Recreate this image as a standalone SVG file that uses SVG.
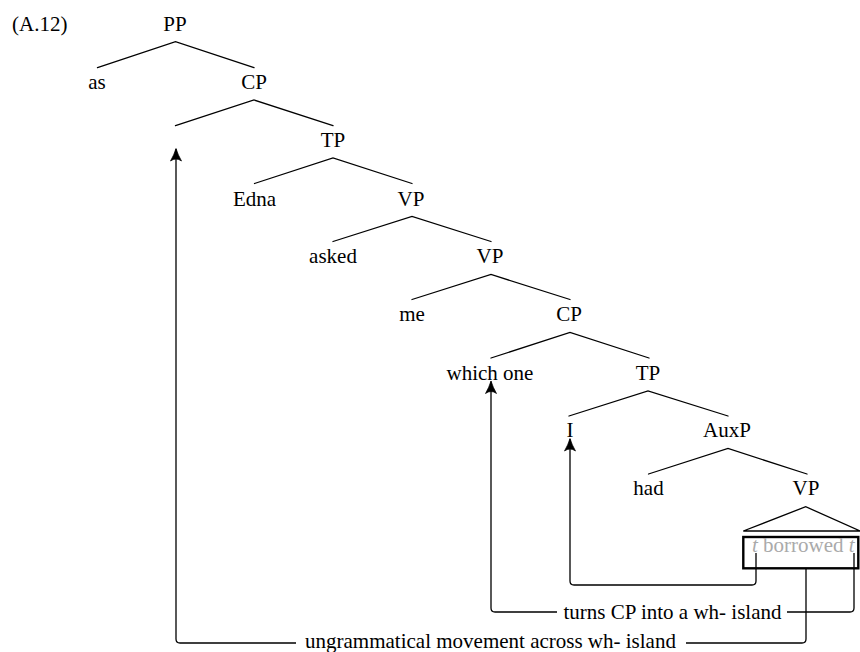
<svg xmlns="http://www.w3.org/2000/svg" width="860" height="652" viewBox="0 0 860 652" font-family="'Liberation Serif', 'Times New Roman', Times, 'DejaVu Serif', serif">
  <style>
    text { font-family: 'Liberation Serif', 'Times New Roman', Times, 'DejaVu Serif', serif; font-size: 21px; }
    .lbl { fill: #000; text-anchor: middle; }
    .note { fill: #000; text-anchor: middle; }
    .trace { fill: #aaaaaa; }
    .edge { stroke: #000; stroke-width: 1.3; fill: none; stroke-linecap: round; }
    .move { stroke: #000; stroke-width: 1.3; fill: none; }
    .gap { fill: #fff; stroke: none; }
  </style>
  <defs>
    <marker id="head" markerUnits="userSpaceOnUse" markerWidth="14" markerHeight="14" viewBox="-13 -7 14 14" refX="0" refY="0" orient="auto">
      <path d="M0.5,0 Q-6,-2 -12,-5.5 Q-8,0 -12,5.5 Q-6,2 0.5,0 Z" fill="#000" stroke="#000" stroke-width="0.7" stroke-linejoin="round"/>
    </marker>
  </defs>
  <rect width="860" height="652" fill="#fff"/>

  <!-- example number -->
  <text class="lbl" x="12" y="30.5" style="text-anchor:start">(A.12)</text>

  <!-- tree branches and movement arrows -->
  <g id="connectors">
    <!-- PP -->
    <path class="edge" d="M97.5,67.7 L175.5,41.7 L254,67.7"/>
    <!-- CP -->
    <path class="edge" d="M175.5,125.7 L254,100 L333,125.7"/>
    <!-- TP -->
    <path class="edge" d="M254.5,183.5 L333,158 L412,183.5"/>
    <!-- VP -->
    <path class="edge" d="M333,241.5 L412,216.5 L491,241.5"/>
    <!-- VP -->
    <path class="edge" d="M412,299.5 L491,274.5 L570,299.5"/>
    <!-- CP -->
    <path class="edge" d="M491,358 L570,332.5 L649,358"/>
    <!-- TP -->
    <path class="edge" d="M569,416 L648,391 L728,416"/>
    <!-- AuxP -->
    <path class="edge" d="M648.5,474 L728,448.5 L807,474"/>
    <!-- VP roof -->
    <path class="edge" d="M743.3,531 L805.7,506.7 L860,531 Z" stroke-linejoin="miter"/>

    <!-- I moves from subject trace -->
    <path class="move" marker-end="url(#head)" d="M756,553 V581 Q756,585 752,585 H574 Q570,585 570,581 V439"/>
    <!-- which one moves from object trace -->
    <path class="move" marker-end="url(#head)" d="M854,553 V608 Q854,612 850,612 H495 Q491,612 491,608 V381.5"/>
    <!-- long-distance movement -->
    <path class="move" marker-end="url(#head)" d="M806,568.3 V639 Q806,643 802,643 H180 Q176,643 176,639 V149"/>
  </g>

  <g id="node-PP"><text class="lbl" x="175" y="30.5">PP</text></g>
  <g id="node-as"><text class="lbl" x="97" y="89">as</text></g>
  <g id="node-CP1"><text class="lbl" x="254" y="89">CP</text></g>
  <g id="node-TP1"><text class="lbl" x="333" y="147">TP</text></g>
  <g id="node-Edna"><text class="lbl" x="254.5" y="205.5">Edna</text></g>
  <g id="node-VP1"><text class="lbl" x="411" y="205.5">VP</text></g>
  <g id="node-asked"><text class="lbl" x="333" y="263">asked</text></g>
  <g id="node-VP2"><text class="lbl" x="490" y="263">VP</text></g>
  <g id="node-me"><text class="lbl" x="412" y="321">me</text></g>
  <g id="node-CP2"><text class="lbl" x="569" y="321">CP</text></g>
  <g id="node-which-one"><text class="lbl" x="490" y="380">which one</text></g>
  <g id="node-TP2"><text class="lbl" x="648" y="380">TP</text></g>
  <g id="node-I"><text class="lbl" x="570" y="437">I</text></g>
  <g id="node-AuxP"><text class="lbl" x="727" y="437">AuxP</text></g>
  <g id="node-had"><text class="lbl" x="648.5" y="495">had</text></g>
  <g id="node-VP3"><text class="lbl" x="806" y="495">VP</text></g>

  <!-- boxed VP content with traces -->
  <g id="node-VP-content">
    <rect x="743.3" y="537" width="115" height="31.3" fill="none" stroke="#000" stroke-width="2.4"/>
    <text class="trace" x="752" y="552"><tspan font-style="italic">t</tspan> borrowed <tspan font-style="italic">t</tspan></text>
  </g>

  <!-- arrow annotations -->
  <g id="label-wh-island">
    <rect class="gap" x="557" y="600" width="230" height="24"/>
    <text class="note" x="672.5" y="619">turns CP into a wh- island</text>
  </g>
  <g id="label-ungrammatical">
    <rect class="gap" x="296" y="631" width="390" height="21"/>
    <text class="note" x="490.5" y="648">ungrammatical movement across wh- island</text>
  </g>
</svg>
